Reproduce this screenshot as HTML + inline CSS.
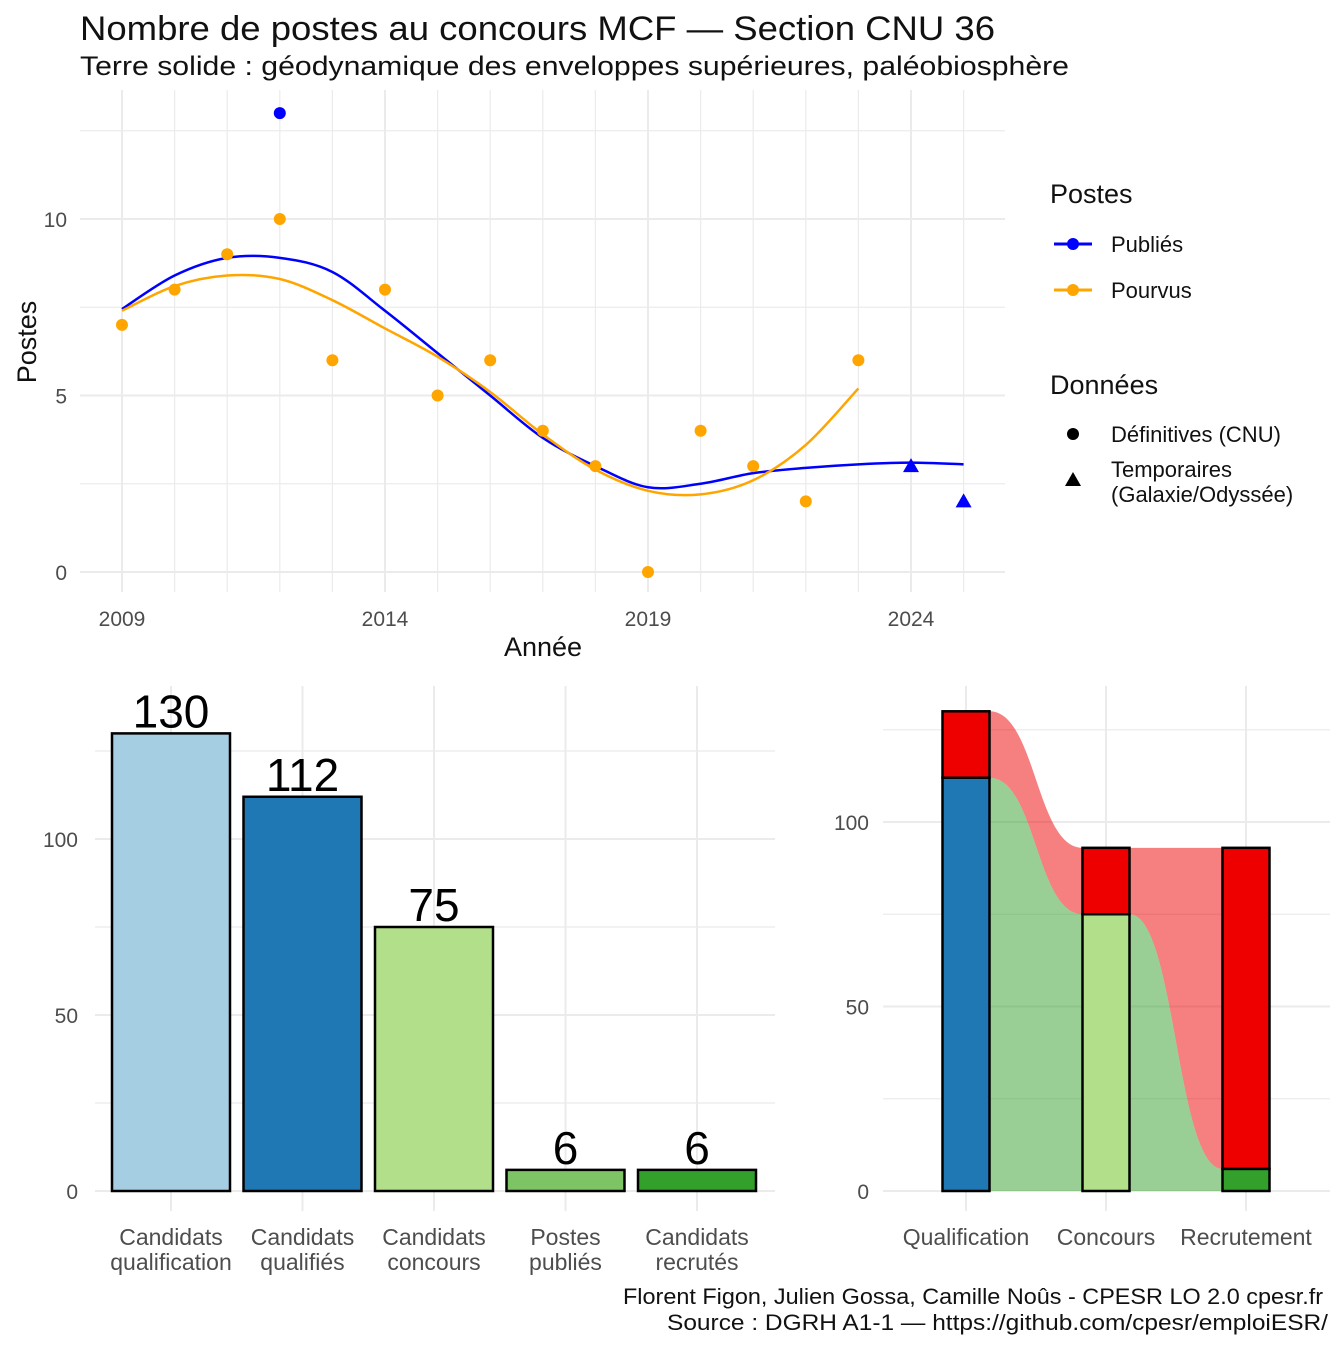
<!DOCTYPE html>
<html><head><meta charset="utf-8"><style>
body{margin:0;background:#fff;}
svg text{font-family:"Liberation Sans",sans-serif;}
</style></head><body>
<svg id="s" width="1344" height="1344" xmlns="http://www.w3.org/2000/svg">
<text x="80" y="40" font-size="34" fill="#111" textLength="915" lengthAdjust="spacingAndGlyphs">Nombre de postes au concours MCF —  Section CNU 36</text>
<text x="80" y="75" font-size="27" fill="#111" textLength="989" lengthAdjust="spacingAndGlyphs">Terre solide : géodynamique des enveloppes supérieures, paléobiosphère</text>
<g id="topchart"></g>
<text x="543" y="656" font-size="27" text-anchor="middle" fill="#111">Année</text>
<text transform="translate(36,342) rotate(-90)" font-size="27" text-anchor="middle" fill="#111">Postes</text>
<g>
<text x="1050" y="203" font-size="27" fill="#111">Postes</text>
<line x1="1054" y1="244" x2="1092" y2="244" stroke="#0000ff" stroke-width="3"/><circle cx="1073" cy="244" r="6" fill="#0000ff"/>
<text x="1111" y="252" font-size="22" fill="#111">Publiés</text>
<line x1="1054" y1="290" x2="1092" y2="290" stroke="#ffa500" stroke-width="3"/><circle cx="1073" cy="290" r="6" fill="#ffa500"/>
<text x="1111" y="298" font-size="22" fill="#111">Pourvus</text>
<text x="1050" y="394" font-size="27" fill="#111">Données</text>
<circle cx="1073" cy="434" r="6" fill="#000"/>
<text x="1111" y="442" font-size="22" fill="#111">Définitives (CNU)</text>
<polygon points="1073,472 1065,486 1081,486" fill="#000"/>
<text x="1111" y="477" font-size="22" fill="#111">Temporaires</text>
<text x="1111" y="502" font-size="22" fill="#111">(Galaxie/Odyssée)</text>
</g>
<g id="bars"></g>
<g id="flow"></g>
<text x="1323" y="1304" font-size="22" text-anchor="end" fill="#111" textLength="700" lengthAdjust="spacingAndGlyphs">Florent Figon, Julien Gossa, Camille Noûs - CPESR LO 2.0 cpesr.fr</text>
<text x="1328" y="1330" font-size="22" text-anchor="end" fill="#111" textLength="661" lengthAdjust="spacingAndGlyphs">Source : DGRH A1-1 — https://github.com/cpesr/emploiESR/</text>
</svg>
<script>
const years=[2009,2010,2011,2012,2013,2014,2015,2016,2017,2018,2019,2020,2021,2022,2023];
const pourvus=[7,8,9,10,6,8,5,6,4,3,0,4,3,2,6];
const publiesYears=[2012];
const publies=[13];
const tempYears=[2024,2025];
const tempPublies=[3,2];
const smoothYears=[2009,2010,2011,2012,2013,2014,2015,2016,2017,2018,2019,2020,2021,2022,2023,2024,2025];
const smoothPublies=[7.45,8.4,8.9,8.9,8.5,7.4,6.2,5.0,3.8,3.0,2.4,2.5,2.8,2.95,3.05,3.1,3.05];
const smoothPourvus=[7.4,8.1,8.4,8.3,7.7,6.9,6.1,5.1,3.9,2.9,2.3,2.2,2.6,3.6,5.2];
const xTicks=[2009,2014,2019,2024];
const yTicks=[0,5,10];
const barCats=["Candidats|qualification","Candidats|qualifiés","Candidats|concours","Postes|publiés","Candidats|recrutés"];
const barVals=[130,112,75,6,6];
const barColors=["#a6cee3","#1f78b4","#b2df8a","#7cc464","#33a02c"];
const barTicks=[0,50,100];
const flowCats=["Qualification","Concours","Recrutement"];
const flowGreen=[112,75,6];
const flowTotal=[130,93,93];
const flowGreenColors=["#1f78b4","#b2df8a","#33a02c"];
const flowTicks=[0,50,100];

const NS="http://www.w3.org/2000/svg";
function mk(p,t,a){const e=document.createElementNS(NS,t);for(const k in a)e.setAttribute(k,a[k]);p.appendChild(e);return e;}
const tg=document.getElementById('topchart');
const tx=y=>122+(y-2009)*52.6, ty=v=>572-v*35.3;
for(let y=2009;y<=2025;y++){mk(tg,'line',{x1:tx(y),x2:tx(y),y1:90,y2:592,stroke:'#ebebeb','stroke-width':xTicks.includes(y)?2:1.2});}
[0,2.5,5,7.5,10,12.5].forEach(v=>mk(tg,'line',{x1:80,x2:1005,y1:ty(v),y2:ty(v),stroke:'#ebebeb','stroke-width':v%5==0?2:1.2}));
xTicks.forEach(y=>{const t=mk(tg,'text',{x:tx(y),y:626,'font-size':21,'text-anchor':'middle',fill:'#4d4d4d'});t.textContent=y;});
yTicks.forEach(v=>{const t=mk(tg,'text',{x:67,y:ty(v)+8,'font-size':21,'text-anchor':'end',fill:'#4d4d4d'});t.textContent=v;});
function curve(xs,vs){const P=xs.map((x,i)=>[tx(x),ty(vs[i])]);let d='M'+P[0][0]+','+P[0][1];for(let i=0;i<P.length-1;i++){const p0=P[i-1]||P[i],p1=P[i],p2=P[i+1],p3=P[i+2]||P[i+1];d+=` C${p1[0]+(p2[0]-p0[0])/6},${p1[1]+(p2[1]-p0[1])/6} ${p2[0]-(p3[0]-p1[0])/6},${p2[1]-(p3[1]-p1[1])/6} ${p2[0]},${p2[1]}`;}return d;}
let e=mk(tg,'path',{d:curve(smoothYears,smoothPublies),fill:'none',stroke:'#0000ff','stroke-width':2.5});


e=mk(tg,'path',{d:curve(years,smoothPourvus),fill:'none',stroke:'#ffa500','stroke-width':2.5});


publiesYears.forEach((y,i)=>{const c=mk(tg,'circle',{cx:tx(y),cy:ty(publies[i]),r:6,fill:'#0000ff'});

});
years.forEach((y,i)=>{const c=mk(tg,'circle',{cx:tx(y),cy:ty(pourvus[i]),r:6,fill:'#ffa500'});

});
tempYears.forEach((y,i)=>{const x=tx(y),yy=ty(tempPublies[i]);const p=mk(tg,'polygon',{points:`${x},${yy-8} ${x-8},${yy+6} ${x+8},${yy+6}`,fill:'#0000ff'});

});
// bar chart
const bars=document.getElementById('bars');
const by=v=>1191-v*3.52, bx=i=>171+i*131.5;
[0,25,50,75,100,125].forEach(v=>mk(bars,'line',{x1:95,x2:775,y1:by(v),y2:by(v),stroke:'#ebebeb','stroke-width':v%50==0?2:1.2}));
barCats.forEach((c,i)=>mk(bars,'line',{x1:bx(i),x2:bx(i),y1:686,y2:1211,stroke:'#ebebeb','stroke-width':2}));
barTicks.forEach(v=>{const t=mk(bars,'text',{x:78,y:by(v)+8,'font-size':21,'text-anchor':'end',fill:'#4d4d4d'});t.textContent=v;});
barVals.forEach((v,i)=>{const r=mk(bars,'rect',{x:bx(i)-59,y:by(v),width:118,height:v*3.52,fill:barColors[i],stroke:'#000','stroke-width':2.5});


const t=mk(bars,'text',{x:bx(i),y:by(v)-6,'font-size':46,'text-anchor':'middle',fill:'#000'});t.textContent=v;
const [a,b]=barCats[i].split('|');
let l=mk(bars,'text',{x:bx(i),y:1245,'font-size':23,'text-anchor':'middle',fill:'#4d4d4d'});l.textContent=a;
l=mk(bars,'text',{x:bx(i),y:1270,'font-size':23,'text-anchor':'middle',fill:'#4d4d4d'});l.textContent=b;});
// flow chart
const flow=document.getElementById('flow');
const fy=v=>1191-v*3.69, fx=i=>966+i*140, hw=23.5;
[0,25,50,75,100,125].forEach(v=>mk(flow,'line',{x1:883,x2:1330,y1:fy(v),y2:fy(v),stroke:'#ebebeb','stroke-width':v%50==0?2:1.2}));
flowCats.forEach((c,i)=>{mk(flow,'line',{x1:fx(i),x2:fx(i),y1:686,y2:1211,stroke:'#ebebeb','stroke-width':2});
const t=mk(flow,'text',{x:fx(i),y:1245,'font-size':23,'text-anchor':'middle',fill:'#4d4d4d'});t.textContent=c;});
flowTicks.forEach(v=>{const t=mk(flow,'text',{x:869,y:fy(v)+8,'font-size':21,'text-anchor':'end',fill:'#4d4d4d'});t.textContent=v;});
(function(){let d='';for(let i=0;i<2;i++){const x1=fx(i)+hw,x2=fx(i+1)-hw,m=(x1+x2)/2;
d+=`M${x1},${fy(flowTotal[i])} C${m},${fy(flowTotal[i])} ${m},${fy(flowTotal[i+1])} ${x2},${fy(flowTotal[i+1])} L${x2},${fy(flowGreen[i+1])} C${m},${fy(flowGreen[i+1])} ${m},${fy(flowGreen[i])} ${x1},${fy(flowGreen[i])} Z `;}
const p=mk(flow,'path',{d:d,fill:'#ee0000','fill-opacity':0.5});

})();
(function(){let d='';for(let i=0;i<2;i++){const x1=fx(i)+hw,x2=fx(i+1)-hw,m=(x1+x2)/2;
d+=`M${x1},${fy(0)} L${x1},${fy(flowGreen[i])} C${m},${fy(flowGreen[i])} ${m},${fy(flowGreen[i+1])} ${x2},${fy(flowGreen[i+1])} L${x2},${fy(0)} Z `;}
const p=mk(flow,'path',{d:d,fill:'#33a02c','fill-opacity':0.5});

})();
flowCats.forEach((c,i)=>{let r=mk(flow,'rect',{x:fx(i)-hw,y:fy(flowGreen[i]),width:2*hw,height:flowGreen[i]*3.69,fill:flowGreenColors[i],stroke:'#000','stroke-width':2.5});


r=mk(flow,'rect',{x:fx(i)-hw,y:fy(flowTotal[i]),width:2*hw,height:(flowTotal[i]-flowGreen[i])*3.69,fill:'#ee0000',stroke:'#000','stroke-width':2.5});

});
</script>
</body></html>
